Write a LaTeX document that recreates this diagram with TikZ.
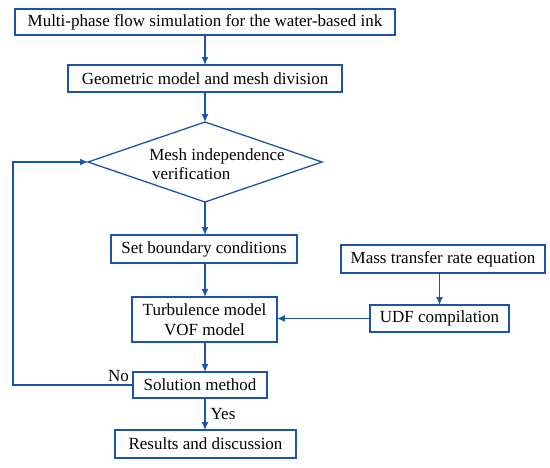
\documentclass[tikz,border=0pt]{standalone}
\usepackage{fontspec}
\setmainfont{Liberation Serif}
\usetikzlibrary{shapes.geometric, arrows.meta}

\definecolor{flowblue}{RGB}{28,84,168}

\begin{document}
\begin{tikzpicture}[> = {Latex[length = 8pt, width = 7pt]}, x = 1pt, y = -1pt,
	box/.style = {draw = flowblue, line width = 1.3pt, inner sep = 0pt, outer sep = 0pt,
		minimum height = 27pt, font = \fontsize{17}{20}\selectfont, align = center},
	decision/.style = {diamond, draw = flowblue, line width = 1.3pt, inner sep = 0pt, outer sep = 0pt},
	link/.style = {->, draw = flowblue, line width = 1.3pt},
	tag/.style = {font = \fontsize{17}{20}\selectfont, inner sep = 0pt}]

	% Frame

	\useasboundingbox (0, 0) rectangle (550, 467);

	% Main column

	\node [box, minimum width = 380pt, minimum height = 26pt] (sim) at (205, 22) {Multi-phase flow simulation for the water-based ink};
	\node [box, minimum width = 274pt] (geo) at (205, 78.5) {Geometric model and mesh division};
	\node [decision, minimum width = 234pt, minimum height = 80pt] (mesh) at (205, 162) {};
	\node [tag, align = left, font = \fontsize{17}{19}\selectfont] (meshtext) at (217, 164) {Mesh independence\\ \,verification};
	\node [box, minimum width = 186pt, minimum height = 28pt] (bound) at (204, 249) {Set boundary conditions};
	\node [box, minimum width = 145pt, minimum height = 45pt] (turb) at (204.5, 319.5) {Turbulence model\\VOF model};
	\node [box, minimum width = 134pt, minimum height = 26pt] (sol) at (200, 385) {Solution method};
	\node [box, minimum width = 181pt, minimum height = 28pt] (res) at (205.5, 444) {Results and discussion};

	% Side column

	\node [box, minimum width = 204pt, minimum height = 28pt] (mass) at (443, 259) {Mass transfer rate equation};
	\node [box, minimum width = 139pt] (udf) at (439.5, 318.5) {UDF compilation};

	% Connectors

	\draw [link] (sim.south -| geo.north) -- (geo.north);
	\draw [link] (geo.south) -- (mesh.north);
	\draw [link] (mesh.south) -- (mesh.south |- bound.north);
	\draw [link] (mesh.south |- bound.south) -- (mesh.south |- turb.north);
	\draw [link] (udf |- mass.south) -- (udf.north);
	\draw [link] (udf.west) -- (udf.west -| turb.east);
	\draw [link] (mesh.south |- turb.south) -- (mesh.south |- sol.north);
	\draw [link] (mesh.south |- sol.south) -- node [tag, right = 5pt] (yes) {Yes} (mesh.south |- res.north);

	% Feedback loop

	\coordinate (back) at (13, 0);
	\draw [link] (sol.west) -- node [tag, pos = 0.12, above = 3pt] (no) {No} (sol.west -| back) |- (mesh.west);

\end{tikzpicture}
\end{document}
